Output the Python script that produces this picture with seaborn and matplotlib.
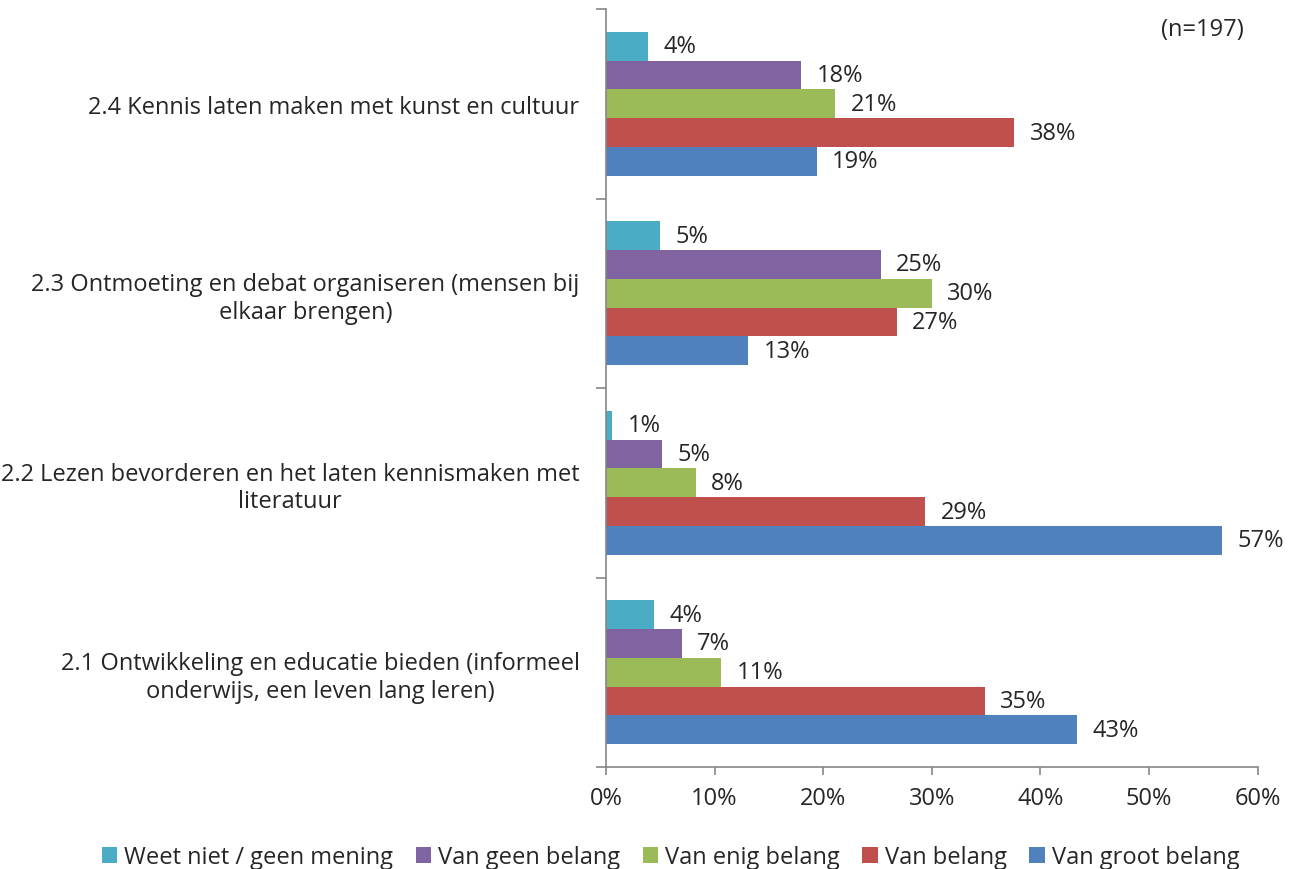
import pandas as pd
import seaborn as sns
import matplotlib.pyplot as plt
from matplotlib.ticker import PercentFormatter, FixedLocator

sns.set_theme(style="white")
plt.rcParams["font.family"] = ["Open Sans", "DejaVu Sans"]

# Data (percentages)
categories = [
    "2.4 Kennis laten maken met kunst en cultuur",
    "2.3 Ontmoeting en debat organiseren (mensen bij\nelkaar brengen)",
    "2.2 Lezen bevorderen en het laten kennismaken met\nliteratuur",
    "2.1 Ontwikkeling en educatie bieden (informeel\nonderwijs, een leven lang leren)",
]
series = ["Weet niet / geen mening", "Van geen belang", "Van enig belang",
          "Van belang", "Van groot belang"]
weet_niet = [3.9, 5.0, 0.6, 4.4]
geen_belang = [18.0, 25.3, 5.2, 7.0]
enig_belang = [21.1, 30.0, 8.3, 10.6]
belang = [37.6, 26.8, 29.4, 34.9]
groot_belang = [19.4, 13.1, 56.7, 43.4]
colors = ["#4BACC6", "#8064A2", "#9BBB59", "#C0504D", "#4F81BD"]

rows = []
for name, vals in zip(series, [weet_niet, geen_belang, enig_belang, belang, groot_belang]):
    for cat, v in zip(categories, vals):
        rows.append({"categorie": cat, "reeks": name, "pct": v})
df = pd.DataFrame(rows)

fs = 17

fig = plt.figure(figsize=(13.02, 8.70), dpi=100)
ax = fig.add_axes([0.4654, 0.1172, 0.5005, 0.8713])

sns.barplot(data=df, y="categorie", x="pct", hue="reeks", order=categories,
            hue_order=series, palette=colors, saturation=1, width=0.76,
            orient="h", ax=ax, legend=True, edgecolor="none")

for cont in ax.containers:
    ax.bar_label(cont, labels=[f"{round(b.get_width()):d}%" for b in cont],
                 padding=11, fontsize=fs)

ax.set_xlim(0, 60)
ax.set_ylim(3.5, -0.5)
ax.xaxis.set_major_formatter(PercentFormatter(decimals=0))
ax.set_xticks(range(0, 61, 10))
ax.set_xlabel("")
ax.set_ylabel("")

ax.yaxis.set_minor_locator(FixedLocator([-0.5, 0.5, 1.5, 2.5, 3.5]))
ax.tick_params(axis="y", which="major", length=0, pad=19, labelsize=fs)
ax.tick_params(axis="y", which="minor", length=7, width=1.2, color="#868686", left=True)
ax.tick_params(axis="x", length=6, width=1.2, color="#868686", bottom=True,
               labelsize=fs, pad=8)
for lbl in ax.get_yticklabels():
    lbl.set_multialignment("center")

for side in ["top", "right"]:
    ax.spines[side].set_visible(False)
for side in ["left", "bottom"]:
    ax.spines[side].set_color("#868686")
    ax.spines[side].set_linewidth(1.2)

ax.legend(loc="lower center", bbox_to_anchor=(0.515, -0.025), bbox_transform=fig.transFigure,
          ncol=5, frameon=False, fontsize=fs, handlelength=0.65, handleheight=0.65,
          handletextpad=0.3, columnspacing=0.95)

fig.text(0.955, 0.965, "(n=197)", ha="right", va="center", fontsize=fs)

fig.savefig("out.png", dpi=100)
